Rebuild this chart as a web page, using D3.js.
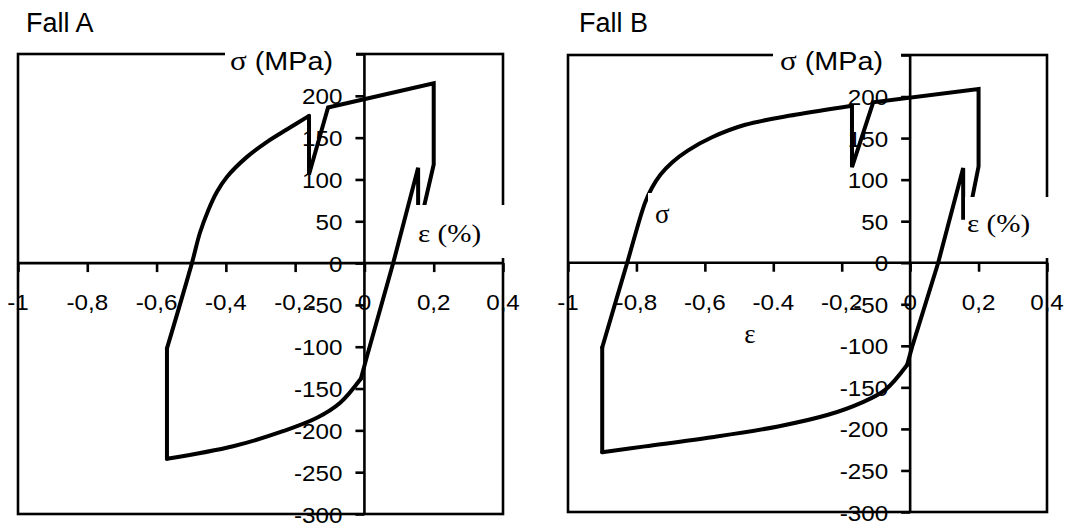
<!DOCTYPE html>
<html>
<head>
<meta charset="utf-8">
<script src="https://cdn.jsdelivr.net/npm/d3@7"></script>
<style>
  body { margin: 0; background: #fff; }
  svg { display: block; }
</style>
</head>
<body>
<div id="chart"></div>
<script>
// strain (%) / stress (MPa)
// Fall A: curved reloading branch, straight part of the cycle, curved compression branch
const riseStrainA = [-0.57, -0.498, -0.475, -0.451, -0.426, -0.397, -0.339, -0.281, -0.223, -0.16];
const riseStressA = [-102, 0, 36, 63, 85, 103, 127, 145, 160, 176];
const cycleStrainA = [-0.16, -0.16, -0.105, 0.2, 0.2, 0.165, 0.155, 0.155, 0.083, 0.007, -0.01];
const cycleStressA = [176, 106, 186, 215, 118, 55, 55, 114, 0, -112, -138];
const compStrainA = [-0.01, -0.07, -0.137, -0.235, -0.379, -0.57, -0.57];
const compStressA = [-138, -167, -185, -201, -219, -234, -102];

// Fall B
const riseStrainB = [-0.9, -0.827, -0.775, -0.755, -0.73, -0.695, -0.65, -0.579, -0.482, -0.336, -0.17];
const riseStressB = [-102, 0, 72, 90, 106, 121, 135, 151, 166, 178, 189];
const cycleStrainB = [-0.17, -0.17, -0.108, 0.2, 0.2, 0.17, 0.155, 0.155, 0.082, 0.006, -0.009];
const cycleStressB = [189, 115, 193, 209, 116, 54, 54, 114, 0, -101, -123];
const compStrainB = [-0.009, -0.073, -0.14, -0.24, -0.386, -0.579, -0.775, -0.9, -0.9];
const compStressB = [-123, -153, -168, -183, -197, -210, -221, -228, -102];

const xTicks = [-1, -0.8, -0.6, -0.4, -0.2, 0, 0.2, 0.4];
const xTickLabelsA = ['-1', '-0,8', '-0,6', '-0,4', '-0,2', '0', '0,2', '0,4'];
const xTickLabelsB = ['-1', '-0,8', '-0,6', '-0.4', '-0,2', '0', '0,2', '0,4'];
const yTicks = [-300, -250, -200, -150, -100, -50, 0, 50, 100, 150, 200, 250];
const yTickLabels = ['-300', '-250', '-200', '-150', '-100', '-50', '0', '50', '100', '150', '200', ''];

const width = 1091;
const height = 527;
const sans = 'Liberation Sans, Arial, sans-serif';
const serif = 'Liberation Serif, Times New Roman, serif';

const svg = d3.select('#chart')
    .append('svg')
    .attr('width', width)
    .attr('height', height);

const panels = [
    {title: 'Fall A', titleX: 26,
     rise: [riseStrainA, riseStressA], cycle: [cycleStrainA, cycleStressA], comp: [compStrainA, compStressA],
     xLabels: xTickLabelsA, left: 18, right: 503, top: 54, bottom: 514,
     sigmaBox: [225, 42, 131, 24], sigmaX: 230,
     epsBox: [411, 205, 96, 53], epsX: 418, epsY: 242, extra: false},
    {title: 'Fall B', titleX: 579,
     rise: [riseStrainB, riseStressB], cycle: [cycleStrainB, cycleStressB], comp: [compStrainB, compStressB],
     xLabels: xTickLabelsB, left: 568, right: 1047, top: 55, bottom: 512,
     sigmaBox: [773, 42, 128, 24], sigmaX: 780,
     epsBox: [965, 197, 86, 61], epsX: 967, epsY: 232, extra: true}
];

// text stretched a little wider, like the picture
function label(g, x, y, str, size, family, anchor, sx) {
    return g.append('text')
        .attr('transform', `translate(${x},${y}) scale(${sx},1)`)
        .attr('text-anchor', anchor)
        .attr('font-family', family)
        .attr('font-size', size)
        .text(str);
}

panels.forEach(p => {
    const x = d3.scaleLinear().domain([-1, 0.4]).range([p.left, p.right]);
    const y = d3.scaleLinear().domain([-300, 250]).range([p.bottom, p.top]);
    const g = svg.append('g');

    label(g, p.titleX, 32, p.title, 27, sans, 'start', 1);

    // plot frame
    g.append('rect')
        .attr('x', p.left).attr('y', p.top)
        .attr('width', p.right - p.left).attr('height', p.bottom - p.top)
        .attr('fill', 'none').attr('stroke', '#000').attr('stroke-width', 2.6);

    // axes crossing at the origin
    const gx = g.append('g').attr('transform', `translate(0,${y(0)})`)
        .call(d3.axisBottom(x).tickValues(xTicks).tickSize(9).tickFormat(''));
    const gy = g.append('g').attr('transform', `translate(${x(0)},0)`)
        .call(d3.axisLeft(y).tickValues(yTicks).tickSize(9).tickFormat(''));
    [gx, gy].forEach(a => {
        a.select('.domain').remove();
        a.selectAll('.tick line').attr('stroke-width', 2.6);
    });
    g.append('line')
        .attr('x1', x(-1)).attr('x2', x(0.4)).attr('y1', y(0)).attr('y2', y(0))
        .attr('stroke', '#000').attr('stroke-width', 2.6);
    g.append('line')
        .attr('x1', x(0)).attr('x2', x(0)).attr('y1', y(250)).attr('y2', y(-300))
        .attr('stroke', '#000').attr('stroke-width', 2.6);

    // hysteresis loop: curved branches smoothed, the rest straight
    const smooth = d3.line().x(d => x(d[0])).y(d => y(d[1])).curve(d3.curveCatmullRom.alpha(0.5));
    const straight = d3.line().x(d => x(d[0])).y(d => y(d[1]));
    const pieces = [[p.rise, smooth], [p.cycle, straight], [p.comp.map(a => a.slice(0, -1)), smooth],
                    [p.comp.map(a => a.slice(-2)), straight]];
    pieces.forEach(([arr, gen]) => {
        g.append('path')
            .datum(arr[0].map((s, i) => [s, arr[1][i]]))
            .attr('d', gen)
            .attr('fill', 'none')
            .attr('stroke', '#000')
            .attr('stroke-width', 4)
            .attr('stroke-linejoin', 'miter')
            .attr('stroke-linecap', 'round');
    });

    // white label boxes over frame and curve
    [p.epsBox, p.sigmaBox].concat(p.extra ? [[648, 193, 36, 46]] : []).forEach(b => {
        g.append('rect')
            .attr('x', b[0]).attr('y', b[1]).attr('width', b[2]).attr('height', b[3])
            .attr('fill', '#fff');
    });

    // tick labels
    xTicks.forEach((d, i) => label(g, x(d), y(0) + 47, p.xLabels[i], 22, sans, 'middle', 1.1));
    yTicks.forEach((d, i) => label(g, x(0) - 22, y(d) + 8.5, yTickLabels[i], 22, sans, 'end', 1.1));

    const sig = g.append('text')
        .attr('transform', `translate(${p.sigmaX},70) scale(1.15,1)`)
        .attr('font-family', sans)
        .attr('font-size', 25);
    sig.append('tspan').attr('font-family', serif).attr('font-size', 27).text('σ');
    sig.append('tspan').text(' (MPa)');

    label(g, p.epsX, p.epsY, 'ε (%)', 26, serif, 'start', 1.12);

    if (p.extra) {
        label(g, 655, 223, 'σ', 27, serif, 'start', 1);
        label(g, 750, 343, 'ε', 27, serif, 'middle', 1);
    }
});
</script>
</body>
</html>
